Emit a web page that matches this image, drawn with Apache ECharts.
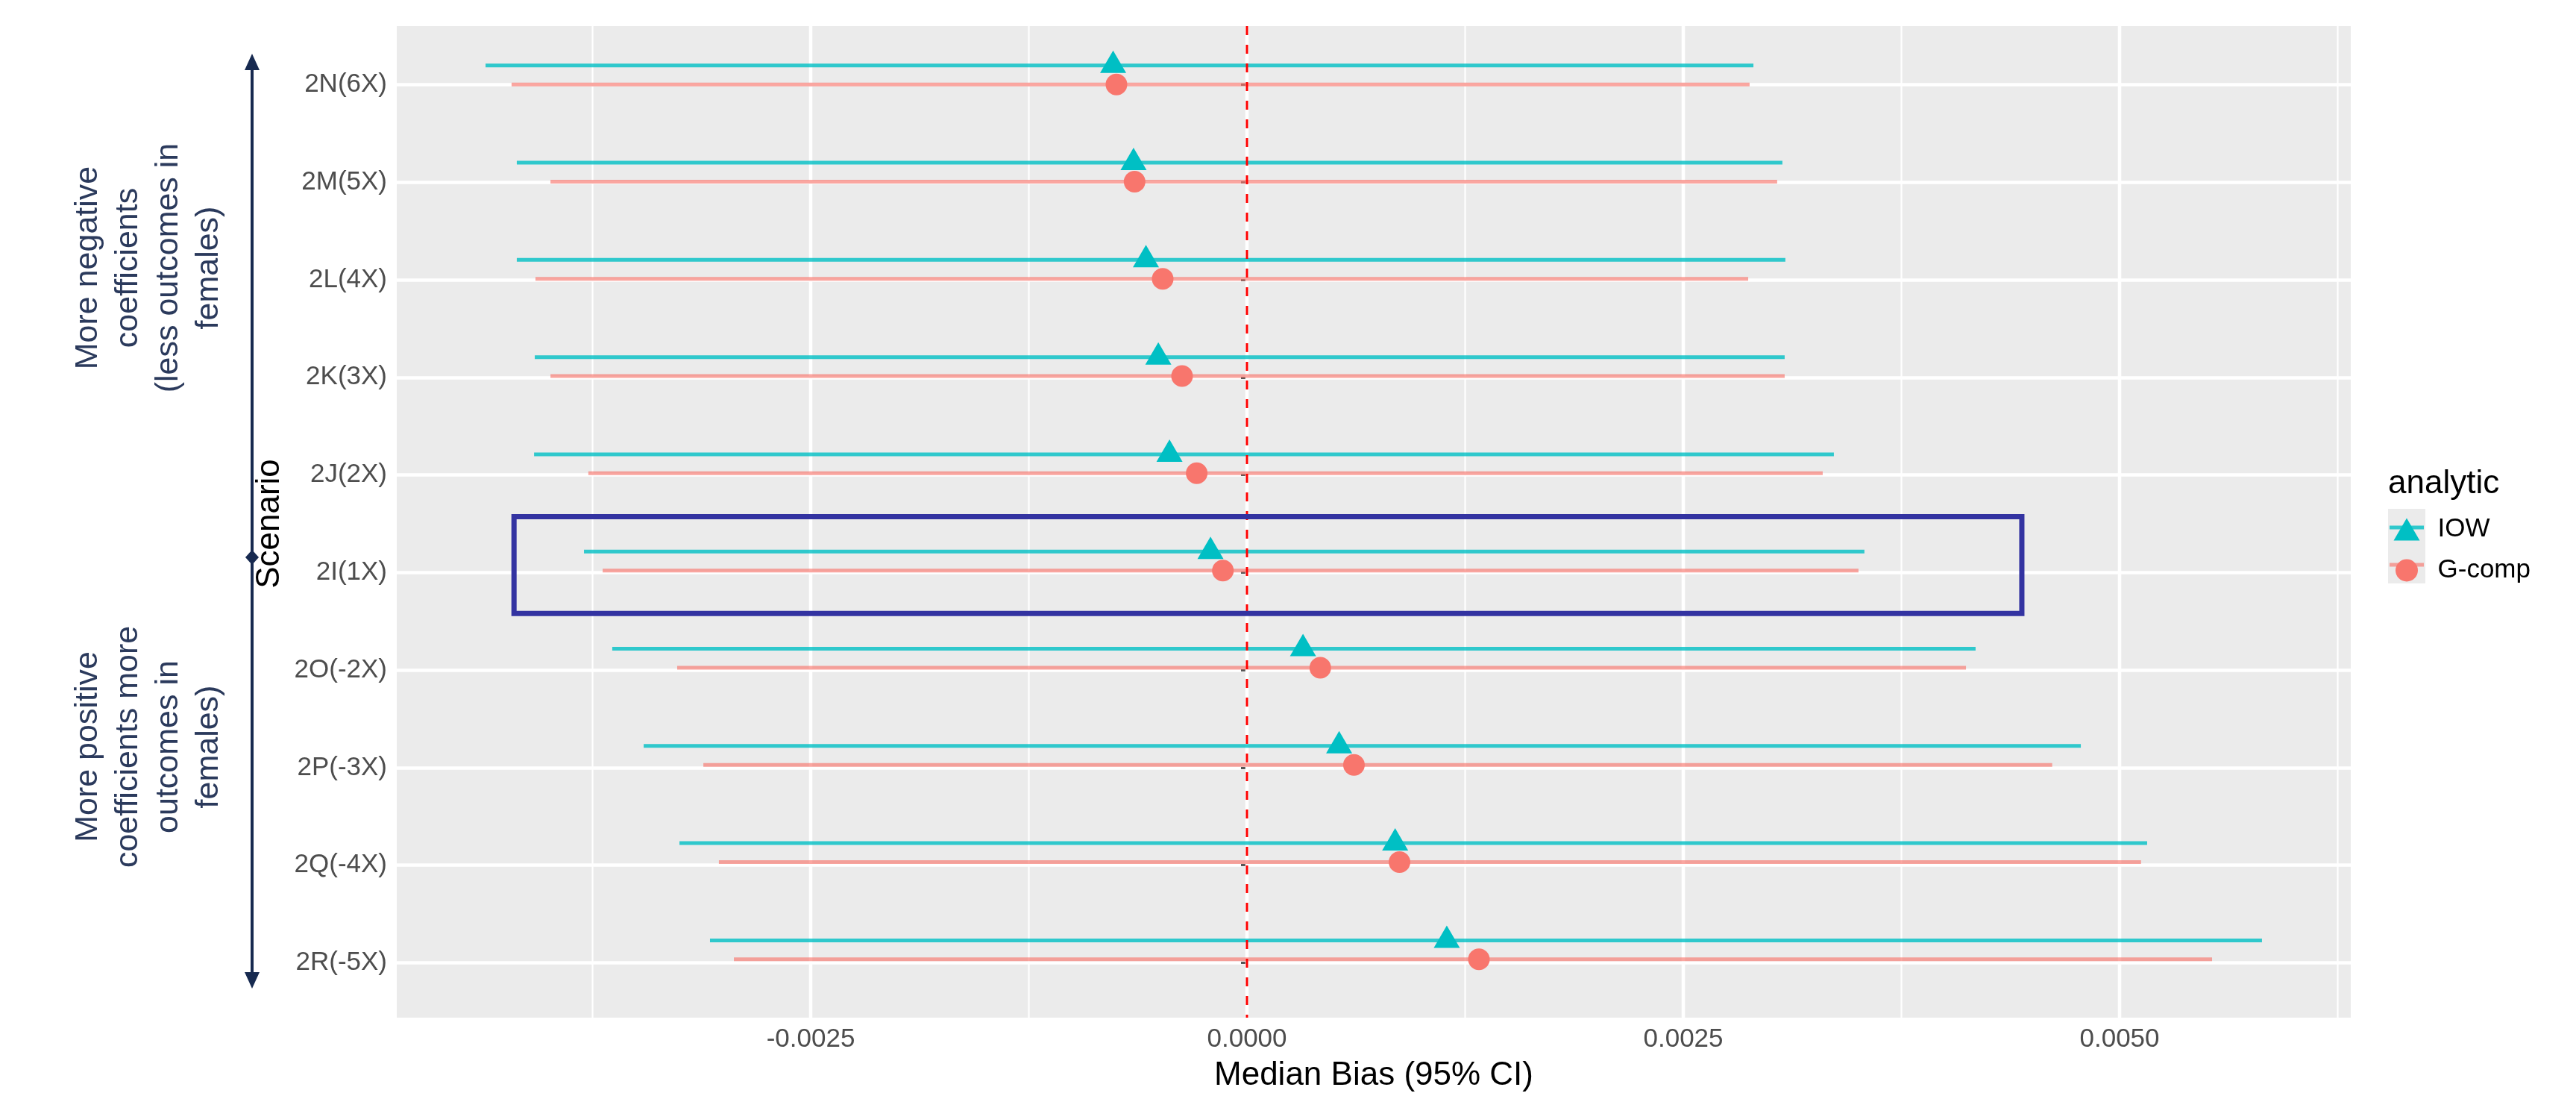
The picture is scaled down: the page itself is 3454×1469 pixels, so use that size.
<!DOCTYPE html>
<html><head><meta charset="utf-8">
<script src="https://cdn.jsdelivr.net/npm/echarts@6/dist/echarts.min.js"></script>
<style>html,body{margin:0;padding:0;background:#fff}#chart{width:3454px;height:1469px}</style>
</head><body><div id="chart"></div>
<script>
// ---- data ----
const scenarios = ['2N(6X)','2M(5X)','2L(4X)','2K(3X)','2J(2X)','2I(1X)','2O(-2X)','2P(-3X)','2Q(-4X)','2R(-5X)'];
const iowMedian = [-0.000767,-0.000650,-0.000579,-0.000508,-0.000444,-0.000209,0.000321,0.000528,0.000849,0.001145];
const iowLower  = [-0.004363,-0.004184,-0.004184,-0.004081,-0.004085,-0.003799,-0.003637,-0.003457,-0.003252,-0.003077];
const iowUpper  = [0.002902,0.003068,0.003085,0.003081,0.003363,0.003538,0.004175,0.004778,0.005158,0.005816];
const gcompMedian = [-0.000748,-0.000644,-0.000483,-0.000372,-0.000288,-0.000138,0.000420,0.000613,0.000874,0.001329];
const gcompLower  = [-0.004214,-0.003991,-0.004077,-0.003991,-0.003774,-0.003692,-0.003265,-0.003115,-0.003026,-0.002940];
const gcompUpper  = [0.002880,0.003038,0.002872,0.003081,0.003299,0.003504,0.004120,0.004614,0.005123,0.005530];
const xTickValues = [-0.0025, 0, 0.0025, 0.005];
const xTickLabels = ['-0.0025','0.0000','0.0025','0.0050'];
const xMinorValues = [-0.00375, -0.00125, 0.00125, 0.00375, 0.00625];
const refLineValue = 0;
const highlightScenario = '2I(1X)';
const highlightBoxX = [-0.0042, 0.00444];
const highlightBoxPad = [-0.553, 0.443];
const seriesNames = ['IOW', 'G-comp'];

// ---- layout / style constants ----
const X_MIN = -0.0048718, X_MAX = 0.0063248;
const Y_MIN = -0.6, Y_MAX = 9.6;
const DODGE = -0.195;
const PANEL = {left: 532, top: 35, width: 2620, height: 1334};
const CYAN = '#00BFC4', SALMON = '#F8766D';
const FONT = '"Liberation Sans", Arial, Helvetica, sans-serif';

const iowLines = scenarios.map((s, i) => [iowLower[i], iowUpper[i], i + DODGE]);
const gcompLines = scenarios.map((s, i) => [gcompLower[i], gcompUpper[i], i]);
const iowPoints = scenarios.map((s, i) => [iowMedian[i], i + DODGE]);
const gcompPoints = scenarios.map((s, i) => [gcompMedian[i], i]);
const hIdx = scenarios.indexOf(highlightScenario);
const boxData = [[highlightBoxX[0], highlightBoxX[1], hIdx + highlightBoxPad[0], hIdx + highlightBoxPad[1]]];

function ciRender(color) {
  return function (params, api) {
    const p1 = api.coord([api.value(0), api.value(2)]);
    const p2 = api.coord([api.value(1), api.value(2)]);
    return {type: 'line', shape: {x1: p1[0], y1: p1[1], x2: p2[0], y2: p2[1]},
            style: {stroke: color, lineWidth: 5, lineCap: 'butt'}};
  };
}
function vLineRender(color, width, dash) {
  return function (params, api) {
    const cs = params.coordSys;
    const x = api.coord([api.value(0), 0])[0];
    return {type: 'line', shape: {x1: x, y1: cs.y, x2: x, y2: cs.y + cs.height},
            style: {stroke: color, lineWidth: width, lineDash: dash || null}};
  };
}

const chart = echarts.init(document.getElementById('chart'), null, {renderer: 'canvas'});
const option = {
  animation: false,
  backgroundColor: '#ffffff',
  textStyle: {fontFamily: FONT},
  grid: [
    {left: PANEL.left, top: PANEL.top, width: PANEL.width, height: PANEL.height,
     show: true, backgroundColor: '#EBEBEB', borderWidth: 0, containLabel: false},
    {left: PANEL.left, top: PANEL.top + 0.6 * PANEL.height / 10.2, width: PANEL.width,
     height: 9 * PANEL.height / 10.2, show: false, containLabel: false}
  ],
  xAxis: [
    {gridIndex: 0, type: 'value', min: X_MIN, max: X_MAX,
     axisLine: {show: false}, splitLine: {show: false},
     axisTick: {show: true, customValues: xTickValues, length: 8, lineStyle: {color: '#555555', width: 3}},
     axisLabel: {customValues: xTickValues, margin: 12, fontSize: 35, color: '#4D4D4D', fontFamily: FONT,
       formatter: v => { const k = xTickValues.findIndex(t => Math.abs(t - v) < 1e-9); return k >= 0 ? xTickLabels[k] : ''; }},
     name: 'Median Bias (95% CI)', nameLocation: 'middle', nameGap: 56,
     nameTextStyle: {fontSize: 44, color: '#000000', fontFamily: FONT}},
    {gridIndex: 1, type: 'value', min: X_MIN, max: X_MAX, show: false}
  ],
  yAxis: [
    {gridIndex: 0, type: 'value', min: Y_MIN, max: Y_MAX, inverse: true, show: false},
    {gridIndex: 1, type: 'category', data: scenarios, inverse: true, boundaryGap: false,
     axisLine: {show: false},
     axisTick: {show: true, length: 8, lineStyle: {color: '#555555', width: 3}},
     axisLabel: {margin: 13, fontSize: 35, color: '#4D4D4D', fontFamily: FONT, interval: 0},
     splitLine: {show: true, interval: 0, lineStyle: {color: '#FFFFFF', width: 4.5}},
     name: 'Scenario', nameLocation: 'middle', nameGap: 148,
     nameTextStyle: {fontSize: 44, color: '#000000', fontFamily: FONT}}
  ],
  legend: {
    data: seriesNames, orient: 'vertical', left: 3209.5, top: 692, padding: 0,
    itemWidth: 35, itemHeight: 30, itemGap: 20, selectedMode: false,
    textStyle: {fontSize: 35, lineHeight: 30, color: '#000000', fontFamily: FONT, padding: [0, 0, 0, 19]}
  },
  graphic: [
    {type: 'rect', z: 0, shape: {x: 3202, y: 682, width: 50, height: 50}, style: {fill: '#EBEBEB'}},
    {type: 'rect', z: 0, shape: {x: 3202, y: 732, width: 50, height: 50}, style: {fill: '#EBEBEB'}},
    {type: 'line', z: 1, shape: {x1: 3204, y1: 707, x2: 3250, y2: 707}, style: {stroke: 'rgba(0,191,196,0.8)', lineWidth: 5}},
    {type: 'line', z: 1, shape: {x1: 3204, y1: 757, x2: 3250, y2: 757}, style: {stroke: 'rgba(248,118,109,0.65)', lineWidth: 5}},
    {type: 'text', z: 1, x: 3202, y: 649, style: {text: 'analytic', fontSize: 44, fill: '#000000', fontFamily: FONT, textAlign: 'left', textVerticalAlign: 'middle'}},
    // left annotations
    {type: 'text', x: 199.5, y: 359, rotation: Math.PI / 2,
     style: {text: 'More negative\ncoefficients\n(less outcomes in\nfemales)', fontSize: 43, lineHeight: 54,
             fill: '#2B3A5C', fontFamily: FONT, textAlign: 'center', textVerticalAlign: 'middle'}},
    {type: 'text', x: 199.5, y: 1001, rotation: Math.PI / 2,
     style: {text: 'More positive\ncoefficients more\noutcomes in\nfemales)', fontSize: 43, lineHeight: 54,
             fill: '#2B3A5C', fontFamily: FONT, textAlign: 'center', textVerticalAlign: 'middle'}},
    // arrow
    {type: 'line', shape: {x1: 338, y1: 90, x2: 338, y2: 1307}, style: {stroke: '#172A50', lineWidth: 4}},
    {type: 'polygon', shape: {points: [[338, 72], [328, 94], [348, 94]]}, style: {fill: '#172A50'}},
    {type: 'polygon', shape: {points: [[338, 1325], [328, 1303], [348, 1303]]}, style: {fill: '#172A50'}},
    {type: 'polygon', shape: {points: [[338, 737], [347, 747], [338, 757], [329, 747]]}, style: {fill: '#172A50'}}
  ],
  series: [
    {type: 'custom', name: 'majorGrid', xAxisIndex: 0, yAxisIndex: 0, z: 1, silent: true,
     data: xTickValues.map(v => [v, 0]), encode: {x: 0, y: 1},
     renderItem: vLineRender('#FFFFFF', 4.5)},
    {type: 'custom', name: 'minorGrid', xAxisIndex: 0, yAxisIndex: 0, z: 1, silent: true,
     data: xMinorValues.map(v => [v, 0]), encode: {x: 0, y: 1},
     renderItem: vLineRender('#FFFFFF', 2.2)},
    {type: 'custom', name: 'IOW-ci', xAxisIndex: 0, yAxisIndex: 0, z: 3, silent: true,
     data: iowLines, encode: {x: [0, 1], y: 2}, renderItem: ciRender('rgba(0,191,196,0.8)')},
    {type: 'custom', name: 'G-comp-ci', xAxisIndex: 0, yAxisIndex: 0, z: 3, silent: true,
     data: gcompLines, encode: {x: [0, 1], y: 2}, renderItem: ciRender('rgba(248,118,109,0.65)')},
    {type: 'custom', name: 'ref', xAxisIndex: 0, yAxisIndex: 0, z: 4, silent: true,
     data: [[refLineValue, 0]], encode: {x: 0, y: 1},
     renderItem: vLineRender('#FF0000', 3, [12, 13])},
    {type: 'scatter', name: 'IOW', xAxisIndex: 0, yAxisIndex: 0, z: 5,
     data: iowPoints, symbol: 'triangle', symbolSize: [35, 30], symbolOffset: [0, -5],
     itemStyle: {color: CYAN, opacity: 1}},
    {type: 'scatter', name: 'G-comp', xAxisIndex: 0, yAxisIndex: 0, z: 6,
     data: gcompPoints, symbol: 'circle', symbolSize: 29,
     itemStyle: {color: SALMON, opacity: 1}},
    {type: 'custom', name: 'highlight', xAxisIndex: 0, yAxisIndex: 0, z: 10, silent: true,
     data: boxData, encode: {x: [0, 1], y: [2, 3]},
     renderItem: function (params, api) {
       const p0 = api.coord([api.value(0), api.value(2)]);
       const p1 = api.coord([api.value(1), api.value(3)]);
       return {type: 'rect', shape: {x: p0[0], y: Math.min(p0[1], p1[1]), width: p1[0] - p0[0], height: Math.abs(p1[1] - p0[1])},
               style: {fill: 'none', stroke: '#3333A1', lineWidth: 7}};
     }}
  ]
};
chart.setOption(option);
</script>
</body></html>
